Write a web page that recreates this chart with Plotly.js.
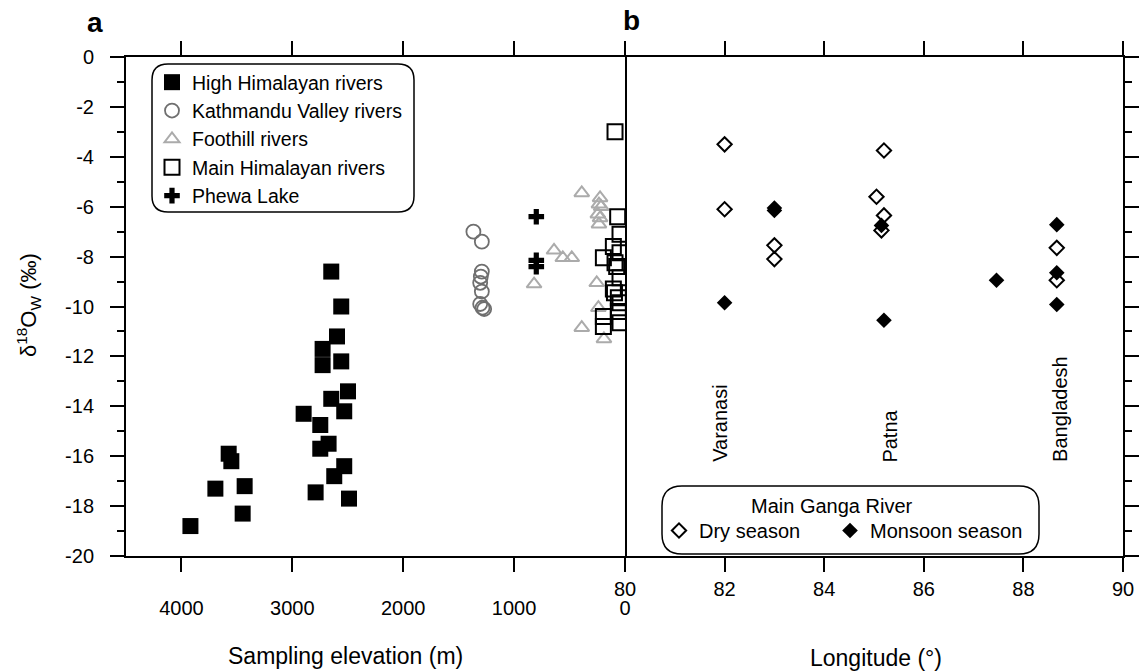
<!DOCTYPE html>
<html>
<head>
<meta charset="utf-8">
<script src="https://cdn.plot.ly/plotly-3.0.1.min.js"></script>
<style>html,body{margin:0;padding:0;background:#fff;}#chart{width:1141px;height:672px;}</style>
</head>
<body>
<div id="chart"></div>
<script>
// ---- Panel a: sampling elevation (m) vs d18O ----
const highHimElev = [2649,2559,2597,2727,2727,2559,2498,2649,2532,2898,2748,2673,2748,2532,2622,2790,2489,3574,3550,3694,3430,3448,3919];
const highHimD18O = [-8.6,-10.0,-11.2,-11.7,-12.35,-12.2,-13.4,-13.7,-14.2,-14.3,-14.75,-15.5,-15.7,-16.4,-16.8,-17.45,-17.7,-15.9,-16.2,-17.3,-17.2,-18.3,-18.8];

const kathElev = [1367,1291,1291,1300,1306,1291,1306,1285,1270];
const kathD18O = [-7.0,-7.4,-8.6,-8.8,-9.05,-9.4,-9.9,-10.05,-10.1];

const footElev = [390,225,235,215,245,225,235,640,561,480,820,255,240,390,190];
const footD18O = [-5.45,-5.65,-5.9,-6.0,-6.3,-6.45,-6.7,-7.75,-8.05,-8.05,-9.1,-9.05,-10.05,-10.85,-11.3];

const mainHimElev = [90,66,45,105,45,195,90,75,45,105,95,60,45,195,195,45,60];
const mainHimD18O = [-3.0,-6.4,-7.1,-7.6,-7.85,-8.05,-8.25,-8.4,-8.85,-9.3,-9.45,-9.65,-9.85,-10.4,-10.8,-10.65,-10.2];

const phewaElev = [800,800,800];
const phewaD18O = [-6.4,-8.15,-8.4];

// ---- Panel b: longitude vs d18O (Main Ganga River) ----
const dryLon  = [82,82,83,83,85.2,85.05,85.2,85.15,88.67,88.67];
const dryD18O = [-3.5,-6.1,-7.55,-8.1,-3.75,-5.6,-6.35,-6.95,-7.65,-8.95];
const monLon  = [82,83,83,85.15,85.2,87.46,88.67,88.67,88.67];
const monD18O = [-9.85,-6.05,-6.15,-6.75,-10.55,-8.95,-6.72,-8.65,-9.92];

const cityNames = ["Varanasi","Patna","Bangladesh"];
const cityLon   = [81.91,85.32,88.73];
const cityLabelY = -16.32;
const gangaLegendTitle = "Main Ganga River";

// ---- tick labels ----
const elevTicks = [4000,3000,2000,1000,0];
const elevTickText = ["4000","3000","2000","1000","0"];
const lonTicks = [80,82,84,86,88,90];
const lonTickText = ["80","82","84","86","88","90"];
const yTicks = [0,-2,-4,-6,-8,-10,-12,-14,-16,-18,-20];
const yTickText = ["0","-2","-4","-6","-8","-10","-12","-14","-16","-18","-20"];

const FONT = "Liberation Sans, Arial, Helvetica, sans-serif";

// pixel -> paper helpers (plot area: x 126..1123, y 57..556)
const L = 126, R = 1123, T = 57, B = 556;
const px = v => (v - L) / (R - L);
const py = v => (B - v) / (B - T);
function roundRect(x0, y0, x1, y1, r) {
  const p = (x, y) => px(x).toFixed(5) + "," + py(y).toFixed(5);
  return "M" + p(x0 + r, y0) + " L" + p(x1 - r, y0) + " Q" + p(x1, y0) + " " + p(x1, y0 + r) +
    " L" + p(x1, y1 - r) + " Q" + p(x1, y1) + " " + p(x1 - r, y1) +
    " L" + p(x0 + r, y1) + " Q" + p(x0, y1) + " " + p(x0, y1 - r) +
    " L" + p(x0, y0 + r) + " Q" + p(x0, y0) + " " + p(x0 + r, y0) + " Z";
}

const traces = [
  {x: highHimElev, y: highHimD18O, name: "High Himalayan rivers", type: "scatter", mode: "markers",
   xaxis: "x", yaxis: "y", legend: "legend", legendgroup: "g1",
   marker: {symbol: "square", size: 16, color: "#000", line: {width: 0}}},
  {x: kathElev, y: kathD18O, name: "Kathmandu Valley rivers", type: "scatter", mode: "markers",
   xaxis: "x", yaxis: "y", legend: "legend", legendgroup: "g2",
   marker: {symbol: "circle-open", size: 14, color: "#6f6f6f", line: {width: 1.8, color: "#6f6f6f"}}},
  {x: footElev, y: footD18O, name: "Foothill rivers", type: "scatter", mode: "markers",
   xaxis: "x", yaxis: "y", legend: "legend", legendgroup: "g3",
   marker: {symbol: "triangle-up-open", size: 13, color: "#ababab", line: {width: 2, color: "#ababab"}}},
  {x: mainHimElev, y: mainHimD18O, name: "Main Himalayan rivers", type: "scatter", mode: "markers",
   xaxis: "x", yaxis: "y", legend: "legend", legendgroup: "g4",
   marker: {symbol: "square-open", size: 15, color: "#000", line: {width: 2, color: "#000"}}},
  {x: phewaElev, y: phewaD18O, name: "Phewa Lake", type: "scatter", mode: "markers",
   xaxis: "x", yaxis: "y", legend: "legend", legendgroup: "g5",
   marker: {symbol: "cross", size: 13, color: "#000", line: {width: 0}}},
  {x: dryLon, y: dryD18O, name: "Dry season", type: "scatter", mode: "markers",
   xaxis: "x2", yaxis: "y2", legend: "legend2",
   marker: {symbol: "diamond-open", size: 11, color: "#000", line: {width: 2, color: "#000"}}},
  {x: monLon, y: monD18O, name: "Monsoon season", type: "scatter", mode: "markers",
   xaxis: "x2", yaxis: "y2", legend: "legend3",
   marker: {symbol: "diamond", size: 12, color: "#000", line: {width: 0}}}
];

const annotations = [
  {text: "<b>a</b>", xref: "paper", yref: "paper", x: px(95), y: py(22), xanchor: "center", yanchor: "middle",
   showarrow: false, font: {size: 28, family: FONT, color: "#000"}},
  {text: "<b>b</b>", xref: "paper", yref: "paper", x: px(631), y: py(21), xanchor: "center", yanchor: "middle",
   showarrow: false, font: {size: 28, family: FONT, color: "#000"}},
  {text: "Sampling elevation (m)", xref: "paper", yref: "paper", x: px(345), y: py(656), xanchor: "center", yanchor: "middle",
   showarrow: false, font: {size: 23, family: FONT, color: "#000"}},
  {text: "Longitude (°)", xref: "paper", yref: "paper", x: px(876), y: py(658), xanchor: "center", yanchor: "middle",
   showarrow: false, font: {size: 23, family: FONT, color: "#000"}},
  {text: "δ<sup>18</sup>O<sub>W</sub> (‰)", xref: "paper", yref: "paper", x: px(28), y: py(305), xanchor: "center", yanchor: "middle",
   showarrow: false, textangle: -90, font: {size: 22, family: FONT, color: "#000"}},
  {text: gangaLegendTitle, xref: "paper", yref: "paper", x: px(832), y: py(506), xanchor: "center", yanchor: "middle",
   showarrow: false, font: {size: 20, family: FONT, color: "#000"}}
];
cityNames.forEach((n, i) => annotations.push({
  text: n, xref: "x2", yref: "y2", x: cityLon[i], y: cityLabelY, yanchor: "bottom", xanchor: "center",
  textangle: -90, showarrow: false, font: {size: 20, family: FONT, color: "#000"}
}));

const axisCommon = {
  showline: true, linecolor: "#000", linewidth: 2, ticks: "outside", ticklen: 14, tickwidth: 2,
  tickcolor: "#000", showgrid: false, zeroline: false, tickmode: "array",
  tickfont: {size: 20, family: FONT, color: "#000"}
};

const legendCommon = {
  xanchor: "left", yanchor: "top", orientation: "h",
  bgcolor: "rgba(0,0,0,0)", borderwidth: 0,
  font: {size: 20, family: FONT, color: "#000"}
};

const layout = {
  width: 1141, height: 672,
  margin: {l: L, r: 1141 - R, t: T, b: 672 - B, pad: 0},
  paper_bgcolor: "#fff", plot_bgcolor: "#fff",
  font: {family: FONT, color: "#000"},
  showlegend: true,
  xaxis: Object.assign({}, axisCommon, {
    domain: [0, px(625)], range: [4500, 0], anchor: "y", mirror: "ticks",
    tickvals: elevTicks, ticktext: elevTickText, ticklabelstandoff: 19
  }),
  yaxis: Object.assign({}, axisCommon, {
    domain: [0, 1], range: [-20, 0], anchor: "x", mirror: true,
    tickvals: yTicks, ticktext: yTickText, ticklabelstandoff: 12,
    minor: {dtick: 1, ticks: "outside", ticklen: 7, tickwidth: 2, tickcolor: "#000", showgrid: false}
  }),
  xaxis2: Object.assign({}, axisCommon, {
    domain: [px(625), 1], range: [80, 90], anchor: "y2", mirror: "ticks",
    tickvals: lonTicks, ticktext: lonTickText
  }),
  yaxis2: Object.assign({}, axisCommon, {
    domain: [0, 1], range: [-20, 0], anchor: "x2", side: "right", matches: "y",
    tickvals: yTicks, ticktext: yTickText, showticklabels: false,
    minor: {dtick: 1, ticks: "outside", ticklen: 7, tickwidth: 2, tickcolor: "#000", showgrid: false}
  }),
  legend: {
    x: px(152), y: py(63), xanchor: "left", yanchor: "top",
    bgcolor: "rgba(0,0,0,0)", borderwidth: 0, traceorder: "grouped", tracegroupgap: 0,
    font: {size: 19.5, family: FONT, color: "#000"}
  },
  legend2: Object.assign({}, legendCommon, {x: px(659), y: py(511)}),
  legend3: Object.assign({}, legendCommon, {x: px(830), y: py(511)}),
  shapes: [
    {type: "path", xref: "paper", yref: "paper", path: roundRect(152, 64, 414, 212, 16),
     line: {color: "#000", width: 1.5}, fillcolor: "rgba(0,0,0,0)", layer: "above"},
    {type: "path", xref: "paper", yref: "paper", path: roundRect(662, 486, 1039, 554, 20),
     line: {color: "#000", width: 1.5}, fillcolor: "rgba(0,0,0,0)", layer: "above"}
  ],
  annotations: annotations
};

Plotly.newPlot("chart", traces, layout, {displayModeBar: false, staticPlot: true});
</script>
</body>
</html>
